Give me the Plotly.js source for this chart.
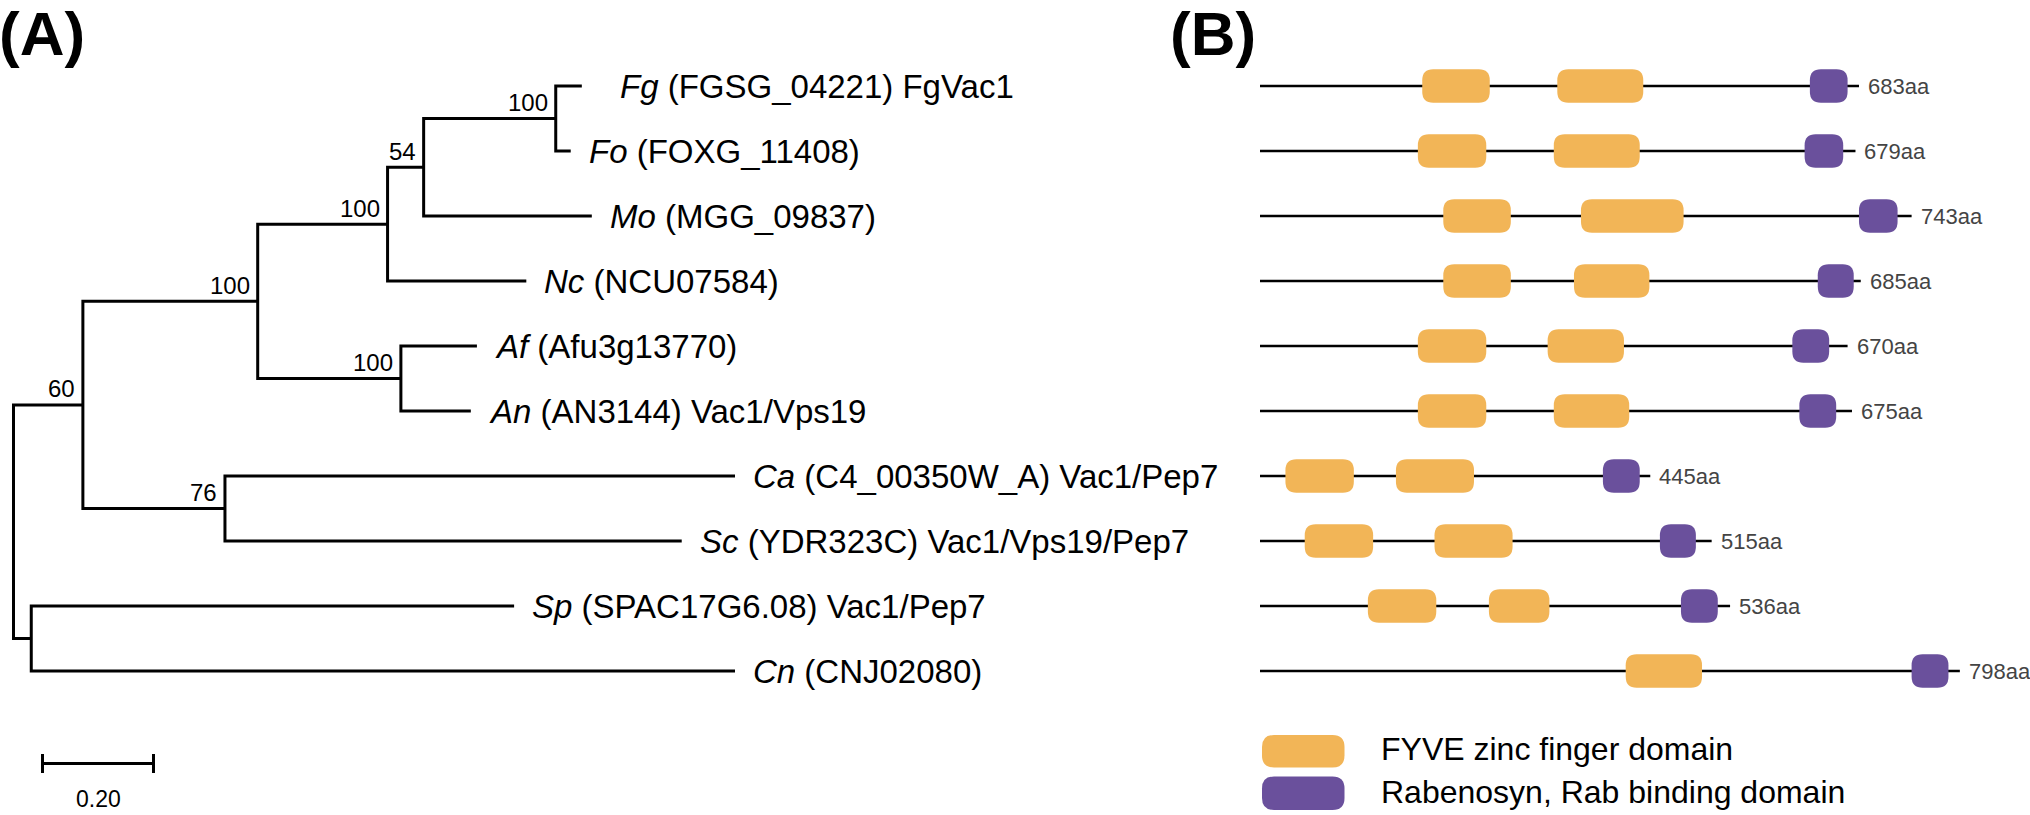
<!DOCTYPE html>
<html>
<head>
<meta charset="utf-8">
<script src="https://cdn.plot.ly/plotly-3.0.1.min.js"></script>
<style>
html,body{margin:0;padding:0;background:#fff;}
#chart{width:2030px;height:815px;}
</style>
</head>
<body>
<div id="chart"></div>
<script>
// ---------------- DATA ----------------
// Phylogenetic tree (node index order: parents precede children; children listed top-to-bottom)
const nodeParent   = [-1, 0, 0, 1, 1, 3, 3, 5, 7, 8, 8, 7, 5, 6, 6, 4, 4, 2, 2];
const branchLength = [0, 0.125, 0.032, 0.315, 0.256, 0.234, 0.258, 0.065, 0.238,
                      0.047, 0.027, 0.303, 0.250, 0.137, 0.126, 0.919, 0.823, 0.870, 1.268];
const bootstrap    = [null, 60, null, 100, 76, 100, 100, 54, 100,
                      null, null, null, null, null, null, null, null, null, null];

// Leaves (top to bottom)
const species   = ['Fg', 'Fo', 'Mo', 'Nc', 'Af', 'An', 'Ca', 'Sc', 'Sp', 'Cn'];
const geneIds   = ['FGSG_04221', 'FOXG_11408', 'MGG_09837', 'NCU07584', 'Afu3g13770',
                   'AN3144', 'C4_00350W_A', 'YDR323C', 'SPAC17G6.08', 'CNJ02080'];
const geneNotes = ['FgVac1', '', '', '', '', 'Vac1/Vps19', 'Vac1/Pep7', 'Vac1/Vps19/Pep7', 'Vac1/Pep7', ''];

// Scale bar
const scaleBarLength = 0.20;
const scaleBarLabel  = '0.20';

// Domain architecture (amino-acid positions)
const proteinLength = [683, 679, 743, 685, 670, 675, 445, 515, 536, 798];
const fyveStart = [[185, 339], [180, 335], [209, 366], [209, 358], [180, 328], [180, 335], [29, 155], [51, 199], [123, 261], [417]];
const fyveEnd   = [[262, 437], [258, 433], [286, 483], [286, 444], [258, 415], [258, 421], [107, 244], [129, 288], [201, 330], [504]];
const rabStart  = [627, 621, 683, 636, 607, 615, 391, 456, 480, 743];
const rabEnd    = [670, 665, 727, 677, 649, 657, 433, 497, 522, 785];

const legendLabels = ['FYVE zinc finger domain', 'Rabenosyn, Rab binding domain'];

// ---------------- STYLE / LAYOUT CONSTANTS ----------------
const W = 2030, H = 815;
const FONT = 'Liberation Sans, Arial, Helvetica, sans-serif';
const ORANGE = '#F2B557';
const PURPLE = '#6A509C';
const ROW_PX = 65, ROW0_PX = 86;           // row spacing / first row
const TREE_X0_PX = 13.5, TREE_PX_PER_UNIT = 555;
const AA_X0_PX = 1260, AA_PX_PER_AA = 0.877;

// ---------------- TREE LAYOUT ----------------
const n = nodeParent.length;
const children = Array.from({length: n}, () => []);
for (let i = 1; i < n; i++) children[nodeParent[i]].push(i);
const depth = new Array(n).fill(0);
for (let i = 1; i < n; i++) depth[i] = depth[nodeParent[i]] + branchLength[i];
const ypos = new Array(n).fill(0);
const leafOrder = [];
(function dfs(k) {
  if (children[k].length === 0) { ypos[k] = leafOrder.length; leafOrder.push(k); return; }
  children[k].forEach(dfs);
  const c = children[k];
  ypos[k] = (ypos[c[0]] + ypos[c[c.length - 1]]) / 2;
})(0);

const tx = [], ty = [];
for (let k = 0; k < n; k++) {
  const c = children[k];
  if (!c.length) continue;
  const a = c[0], b = c[c.length - 1];
  tx.push(depth[a], depth[k], depth[k], depth[b], null);
  ty.push(ypos[a], ypos[a], ypos[b], ypos[b], null);
  for (let j = 1; j < c.length - 1; j++) {
    tx.push(depth[k], depth[c[j]], null);
    ty.push(ypos[c[j]], ypos[c[j]], null);
  }
}

// scale bar
const sbX0 = (42.5 - TREE_X0_PX) / TREE_PX_PER_UNIT;
const sbY = (763.5 - ROW0_PX) / ROW_PX;
const sbTick = 9.5 / ROW_PX;
const sbx = [sbX0, sbX0 + scaleBarLength, null, sbX0, sbX0, null, sbX0 + scaleBarLength, sbX0 + scaleBarLength];
const sby = [sbY, sbY, null, sbY - sbTick, sbY + sbTick, null, sbY - sbTick, sbY + sbTick];

// backbones
const bx = [], by = [];
proteinLength.forEach((L, i) => { bx.push(0, L, null); by.push(i, i, null); });

const traces = [
  {x: tx, y: ty, type: 'scatter', mode: 'lines', line: {color: '#000', width: 3}, hoverinfo: 'skip', showlegend: false, xaxis: 'x', yaxis: 'y'},
  {x: sbx, y: sby, type: 'scatter', mode: 'lines', line: {color: '#000', width: 3}, hoverinfo: 'skip', showlegend: false, xaxis: 'x', yaxis: 'y'},
  {x: bx, y: by, type: 'scatter', mode: 'lines', line: {color: '#000', width: 2.6}, hoverinfo: 'skip', showlegend: false, xaxis: 'x2', yaxis: 'y'}
];

// ---------------- SHAPES ----------------
function roundRect(x0, x1, y0, y1, rx, ry) {
  return `M ${x0 + rx},${y0} L ${x1 - rx},${y0} Q ${x1},${y0} ${x1},${y0 + ry} ` +
         `L ${x1},${y1 - ry} Q ${x1},${y1} ${x1 - rx},${y1} L ${x0 + rx},${y1} ` +
         `Q ${x0},${y1} ${x0},${y1 - ry} L ${x0},${y0 + ry} Q ${x0},${y0} ${x0 + rx},${y0} Z`;
}
const shapes = [];
const hh = 16.75 / ROW_PX;
const rAA = 11 / AA_PX_PER_AA, rY = 11 / ROW_PX;
proteinLength.forEach((L, i) => {
  fyveStart[i].forEach((s, j) => {
    shapes.push({type: 'path', xref: 'x2', yref: 'y', layer: 'above',
      path: roundRect(s, fyveEnd[i][j], i - hh, i + hh, rAA, rY),
      fillcolor: ORANGE, line: {width: 0}});
  });
  shapes.push({type: 'path', xref: 'x2', yref: 'y', layer: 'above',
    path: roundRect(rabStart[i], rabEnd[i], i - hh, i + hh, rAA, rY),
    fillcolor: PURPLE, line: {width: 0}});
});
// legend swatches (paper coords)
const px = v => v / W, py = v => 1 - v / H;
[[ORANGE, 735, 767.5], [PURPLE, 776.5, 810]].forEach(([col, t, b]) => {
  shapes.push({type: 'path', xref: 'paper', yref: 'paper', layer: 'above',
    path: roundRect(px(1262), px(1344.5), py(b), py(t), 12 / W, 12 / H),
    fillcolor: col, line: {width: 0}});
});

// ---------------- ANNOTATIONS ----------------
const ann = [];
// panel letters
ann.push({xref: 'paper', yref: 'paper', x: 0, y: 1, xanchor: 'left', yanchor: 'top', xshift: -3, yshift: 3,
  text: '<b>(A)</b>', showarrow: false, font: {family: FONT, size: 62, color: '#000'}});
ann.push({xref: 'paper', yref: 'paper', x: px(1168), y: 1, xanchor: 'left', yanchor: 'top', yshift: 3,
  text: '<b>(B)</b>', showarrow: false, font: {family: FONT, size: 62, color: '#000'}});
// bootstrap values
for (let k = 0; k < n; k++) {
  if (bootstrap[k] == null) continue;
  ann.push({xref: 'x', yref: 'y', x: depth[k], y: ypos[k], xanchor: 'right', yanchor: 'middle',
    xshift: -6, yshift: 16, text: String(bootstrap[k]), showarrow: false,
    font: {family: FONT, size: 24, color: '#000'}});
}
// leaf labels
leafOrder.forEach((k, i) => {
  const t = `<i>${species[i]}</i> (${geneIds[i]})` + (geneNotes[i] ? ' ' + geneNotes[i] : '');
  ann.push({xref: 'x', yref: 'y', x: depth[k], y: ypos[k], xanchor: 'left', yanchor: 'middle',
    xshift: i === 0 ? 36 : 16, text: t, showarrow: false,
    font: {family: FONT, size: 33, color: '#000'}});
});
// scale bar label
ann.push({xref: 'x', yref: 'y', x: sbX0 + scaleBarLength / 2, y: (799 - ROW0_PX) / ROW_PX,
  xanchor: 'center', yanchor: 'middle', text: scaleBarLabel, showarrow: false,
  font: {family: FONT, size: 23, color: '#000'}});
// protein length labels
proteinLength.forEach((L, i) => {
  ann.push({xref: 'x2', yref: 'y', x: L, y: i, xanchor: 'left', yanchor: 'middle', xshift: 7,
    text: L + 'aa', showarrow: false, font: {family: FONT, size: 22, color: '#444'}});
});
// legend labels
[749, 791.5].forEach((yc, j) => {
  ann.push({xref: 'paper', yref: 'paper', x: px(1379), y: py(yc), xanchor: 'left', yanchor: 'middle',
    text: legendLabels[j], showarrow: false, font: {family: FONT, size: 32, color: '#000'}});
});

const layout = {
  width: W, height: H,
  margin: {l: 0, r: 0, t: 0, b: 0, pad: 0},
  paper_bgcolor: '#fff', plot_bgcolor: 'rgba(0,0,0,0)',
  showlegend: false,
  xaxis: {domain: [0, 1], range: [-TREE_X0_PX / TREE_PX_PER_UNIT, (W - TREE_X0_PX) / TREE_PX_PER_UNIT],
          visible: false, fixedrange: true},
  xaxis2: {domain: [0, 1], overlaying: 'x', anchor: 'y',
           range: [-AA_X0_PX / AA_PX_PER_AA, (W - AA_X0_PX) / AA_PX_PER_AA], visible: false, fixedrange: true},
  yaxis: {domain: [0, 1], range: [(H - ROW0_PX) / ROW_PX, -ROW0_PX / ROW_PX], visible: false, fixedrange: true},
  shapes: shapes,
  annotations: ann,
  font: {family: FONT}
};

Plotly.newPlot('chart', traces, layout, {staticPlot: true, displayModeBar: false});
</script>
</body>
</html>
